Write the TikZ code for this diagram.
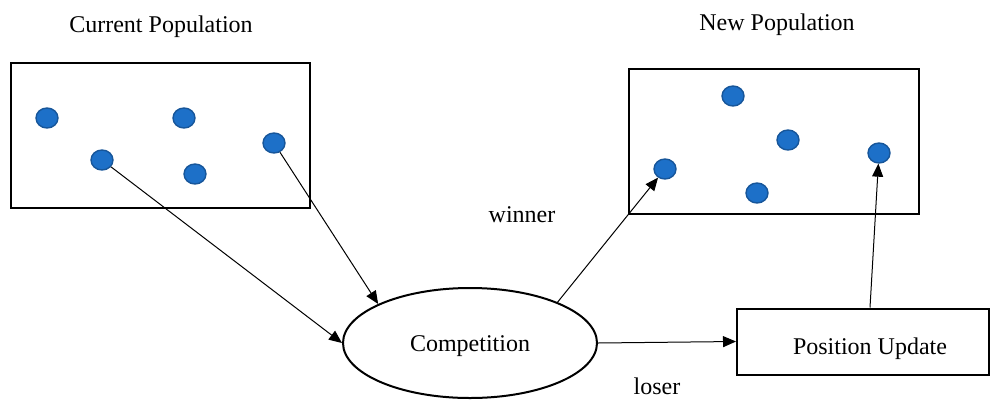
\documentclass[tikz,border=0pt]{standalone}
\usepackage{fontspec}
\setmainfont{Liberation Serif}
\usetikzlibrary{arrows.meta,shapes.geometric}
\definecolor{dotfill}{HTML}{1D70C8}
\definecolor{dotline}{HTML}{17569A}
\tikzset{
  lbl/.style={font=\fontsize{24}{28}\selectfont, inner sep=0pt},
  popbox/.style={draw, line width=2pt},
  pdot/.style={ellipse, draw=dotline, fill=dotfill, line width=1.4pt, minimum width=22pt, minimum height=20pt, inner sep=0pt},
  conn/.style={line width=1pt, -{Triangle[length=13pt,width=11pt]}},
}
\begin{document}
\begin{tikzpicture}[x=1pt,y=-1pt]
\useasboundingbox (0,0) rectangle (992,399);
% boxes
\draw[popbox] (11,63) rectangle (310,208);
\draw[popbox] (629,69) rectangle (919,214);
% titles
\node[lbl] (tcur) at (161,27) {Current Population};
\node[lbl] (tnew) at (777,25) {New Population};
% dots current
\node[pdot] (c1) at (47,118) {};
\node[pdot] (c2) at (184,118) {};
\node[pdot] (c3) at (102,160) {};
\node[pdot] (c4) at (195,174) {};
\node[pdot] (c5) at (274,143) {};
% dots new
\node[pdot] (n1) at (733,96) {};
\node[pdot] (n2) at (788,140) {};
\node[pdot] (n3) at (665,169) {};
\node[pdot] (n4) at (757,193) {};
\node[pdot] (n5) at (879,153) {};
% competition
\node[ellipse, draw, line width=2pt, minimum width=254pt, minimum height=110pt, inner sep=0pt] (comp) at (470,343) {};
\node[lbl] (compt) at (470,346) {Competition};
% position update
\node[draw, line width=2pt, minimum width=252pt, minimum height=66pt, inner sep=0pt] (pu) at (863,341.5) {};
\node[lbl] (put) at (870,349) {Position Update};
% labels
\node[lbl] (win) at (522,215) {winner};
\node[lbl] (los) at (657,386) {loser};
% connectors
\draw[conn] (c3) -- (comp.west);
\draw[conn] (c5) -- (comp.157);
\draw[conn] (comp.25) -- (n3);
\draw[conn] (comp.east) -- (pu.west);
\draw[conn] (pu.north -| 870,0) -- (n5);
\end{tikzpicture}
\end{document}
